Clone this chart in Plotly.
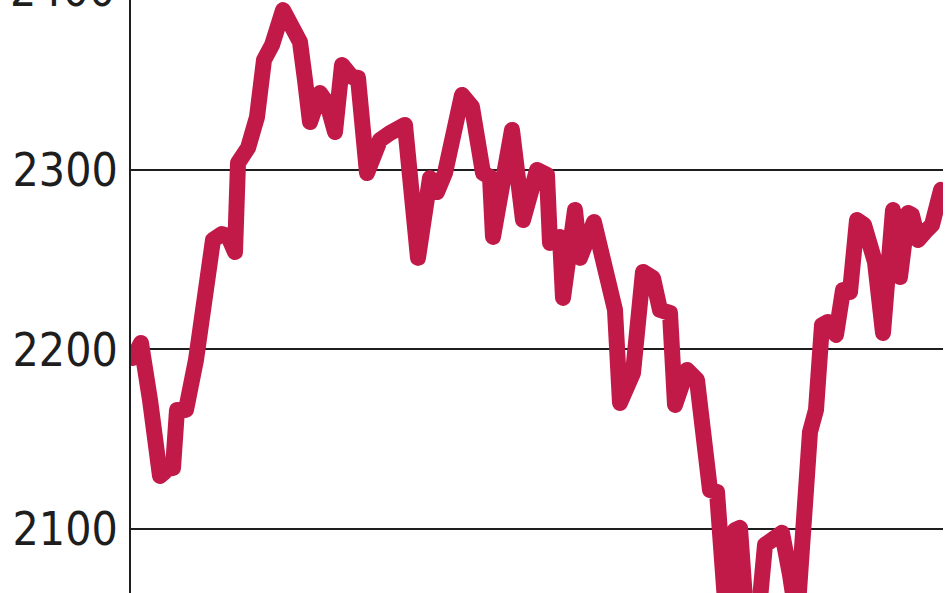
import plotly.graph_objects as go

# session index (trading-day position) and index level
session = [0, 8, 17, 27, 35, 40, 44, 53, 63, 72, 80, 89, 95, 102, 105, 115, 124, 131, 139,
           150, 160, 167, 172, 177, 187, 194, 202, 209, 219, 225, 234, 247, 257, 272, 285,
           297, 304, 312, 329, 339, 350, 357, 360, 379, 390, 404, 414, 417, 427, 430, 442,
           447, 461, 475, 482, 487, 500, 510, 520, 527, 537, 542, 554, 564, 570, 577, 584,
           589, 594, 602, 607, 614, 625, 632, 639, 649, 657, 664, 677, 683, 689, 695, 703,
           710, 717, 724, 731, 742, 750, 760, 767, 775, 779, 785, 792, 799, 808]
level = [2195.3, 2203.6, 2171.9, 2129.5, 2133.4, 2134.0, 2166.3, 2166.3, 2194.2, 2227.6,
         2261.0, 2264.3, 2263.2, 2254.3, 2303.9, 2312.3, 2329.5, 2361.3, 2369.6, 2389.1,
         2375.8, 2371.3, 2350.1, 2326.7, 2342.9, 2337.3, 2321.2, 2358.5, 2351.8, 2351.3,
         2298.3, 2316.7, 2320.6, 2325.1, 2251.0, 2295.5, 2287.7, 2298.3, 2341.8, 2335.1,
         2298.3, 2296.1, 2262.7, 2322.3, 2272.1, 2300.0, 2297.2, 2259.3, 2262.7, 2228.7,
         2277.7, 2251.0, 2271.0, 2233.1, 2222.0, 2170.2, 2186.9, 2243.2, 2239.8, 2222.0,
         2220.3, 2169.1, 2188.6, 2183.0, 2149.6, 2121.7, 2120.6, 2082.7, 2045.0, 2099.4,
         2100.6, 2045.0, 2049.0, 2091.1, 2093.9, 2097.8, 2074.4, 2049.0, 2154.0, 2166.3,
         2213.6, 2215.3, 2208.1, 2233.1, 2232.0, 2272.1, 2269.4, 2248.7, 2209.2, 2277.7,
         2240.4, 2276.0, 2274.9, 2261.0, 2265.5, 2269.4, 2288.9]

y_ticks = [2100, 2200, 2300]
top_label = 2400
y_range = [2064.3, 2394.7]
x_range = [-2, 810]

line_color = "#C21A48"
ink = "#1e1e1e"
tick_font = dict(family="DejaVu Sans Condensed, sans-serif", size=46, color=ink)

fig = go.Figure()
fig.add_trace(go.Scatter(x=session, y=level, mode="lines",
                         line=dict(color=line_color, width=16),
                         hoverinfo="skip", showlegend=False))

fig.update_layout(
    width=948, height=593,
    margin=dict(l=131, r=5, t=0, b=0),
    paper_bgcolor="white", plot_bgcolor="white",
    showlegend=False,
    xaxis=dict(range=x_range, visible=False, showgrid=False, zeroline=False,
               automargin=False),
    yaxis=dict(range=y_range, tickvals=y_ticks, ticktext=[str(v) for v in y_ticks],
               showgrid=True, gridcolor=ink, gridwidth=2,
               showline=True, linecolor=ink, linewidth=2,
               zeroline=False, ticks="", ticklabelstandoff=2,
               automargin=False, tickfont=tick_font),
)

frac = (top_label - y_range[0]) / (y_range[1] - y_range[0])
fig.add_annotation(text=str(top_label), xref="paper", yref="paper",
                   x=0, y=frac, xanchor="right", yanchor="middle",
                   xshift=-14, showarrow=False, font=tick_font)

fig.write_html("out.html",
               config={"displayModeBar": False},
               post_script=("document.body.style.margin='0';"
                            "document.querySelectorAll('.scatterlayer path.js-line').forEach(function(p){"
                            "p.style.strokeLinejoin='round';p.style.strokeLinecap='round';});"))
